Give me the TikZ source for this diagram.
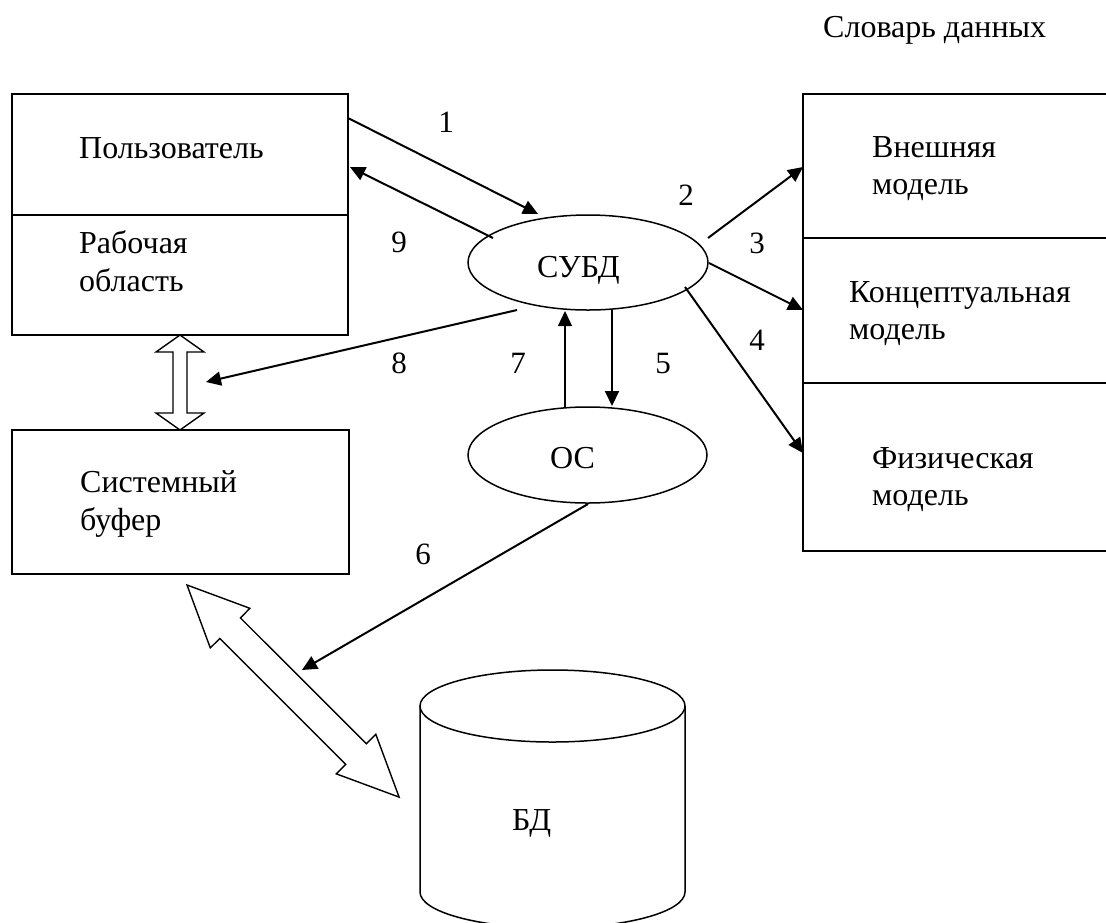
\documentclass[tikz,border=0pt]{standalone}
\usepackage{fontspec}
\setmainfont{Liberation Serif}
\usetikzlibrary{shapes.geometric,arrows.meta}
\begin{document}
\begin{tikzpicture}[x=1pt,y=-1pt,
  box/.style={draw,line width=1.5pt,inner sep=0pt},
  ell/.style={draw,ellipse,line width=1.5pt,inner sep=0pt},
  txt/.style={font=\fontsize{32}{38}\selectfont,inner sep=0pt,anchor=base west},
  num/.style={font=\fontsize{31}{37}\selectfont,inner sep=0pt,anchor=base},
  arr/.style={line width=2pt,-{Triangle[length=15pt,width=14pt]}},
  hollow/.style={draw,line width=1.4pt,fill=white,line join=miter}]
\useasboundingbox (0,0) rectangle (1106,922);

% boxes
\node[box,minimum width=336,minimum height=121] (user) at (180,154.5) {};
\node[box,minimum width=336,minimum height=120] (work) at (180,275) {};
\node[box,minimum width=337,minimum height=144] (buf) at (180.5,502) {};
\node[box,minimum width=320,minimum height=144] (ext) at (963,166) {};
\node[box,minimum width=320,minimum height=145] (conc) at (963,310.5) {};
\node[box,minimum width=320,minimum height=168] (phys) at (963,467) {};

% ellipses
\node[ell,minimum width=240,minimum height=95] (subd) at (588,262.5) {};
\node[ell,minimum width=239,minimum height=96] (os) at (587.5,455) {};

% cylinder
\draw[line width=1.5pt] (552.5,706) ellipse[x radius=132.5,y radius=36];
\draw[line width=1.5pt] (420,706) -- (420,892) arc[start angle=180,end angle=0,x radius=132.5,y radius=36] -- (685,706);

% texts
\node[txt] (t0) at (823,37) {Словарь данных};
\node[txt] (t1) at (79,158) {Пользователь};
\node[txt] (t2) at (79,253) {Рабочая};
\node[txt] (t3) at (79,291) {область};
\node[txt] (t4) at (80,492) {Системный};
\node[txt] (t5) at (80,530) {буфер};
\node[txt] (t6) at (872,157) {Внешняя};
\node[txt] (t7) at (872,194) {модель};
\node[txt] (t8) at (849,302) {Концептуальная};
\node[txt] (t9) at (849,339) {модель};
\node[txt] (t10) at (872,468) {Физическая};
\node[txt] (t11) at (872,505) {модель};
\node[txt] (t12) at (537,277) {СУБД};
\node[txt] (t13) at (550,468) {ОС};
\node[txt] (t14) at (512,830) {БД};

% numbers
\node[num] (n1) at (446,132) {1};
\node[num] (n2) at (686,205) {2};
\node[num] (n3) at (757,253) {3};
\node[num] (n4) at (757,350) {4};
\node[num] (n5) at (663,373) {5};
\node[num] (n6) at (423,564) {6};
\node[num] (n7) at (518,373) {7};
\node[num] (n8) at (399,373) {8};
\node[num] (n9) at (399,252) {9};

% hollow double arrows
\path[hollow] (180,335) -- (204,352) -- (187,352) -- (187,413) -- (204,413) -- (180,430)
  -- (156,413) -- (173,413) -- (173,352) -- (156,352) -- cycle;
\path[hollow] (187,585) -- (210.3,647.9) -- (219.9,638.4) -- (345.7,764.3) -- (336.2,773.8)
  -- (399.1,797.1) -- (375.8,734.2) -- (366.3,743.7) -- (240.4,617.9) -- (249.9,608.3) -- cycle;

% arrow end points
\coordinate (a1s) at (348,118); \coordinate (a1e) at (538,214);
\coordinate (a9s) at (493,238); \coordinate (a9e) at (350,167);
\coordinate (a2s) at (708,238); \coordinate (a2e) at (803,167);
\coordinate (a3s) at (709,263); \coordinate (a3e) at (803,310);
\coordinate (a4s) at (685,287); \coordinate (a4e) at (803,453);
\coordinate (a7s) at (565,407); \coordinate (a7e) at (565,311);
\coordinate (a5s) at (612,310); \coordinate (a5e) at (612,406);
\coordinate (a8s) at (517,310); \coordinate (a8e) at (206,382);
\coordinate (a6s) at (588,504); \coordinate (a6e) at (302,670);

\draw[arr] (a1s) -- (a1e);
\draw[arr] (a9s) -- (a9e);
\draw[arr] (a2s) -- (a2e);
\draw[arr] (a3s) -- (a3e);
\draw[arr] (a4s) -- (a4e);
\draw[arr,line width=1.3pt] (a7s) -- (a7e);
\draw[arr] (a5s) -- (a5e);
\draw[arr] (a8s) -- (a8e);
\draw[arr] (a6s) -- (a6e);
\end{tikzpicture}
\end{document}
